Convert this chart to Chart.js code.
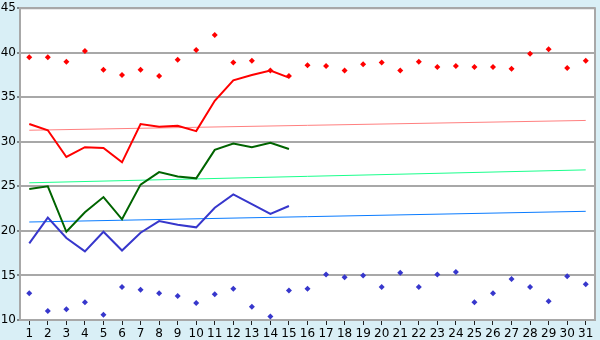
<!DOCTYPE html>
<html>
<head>
<meta charset="utf-8">
<script src="https://cdn.jsdelivr.net/npm/chart.js@4/dist/chart.umd.min.js"></script>
<style>
  html, body { margin: 0; padding: 0; background: #d9eff6; }
  #wrap { width: 600px; height: 340px; }
</style>
</head>
<body>
<div id="wrap"><canvas id="myChart" width="600" height="340"></canvas></div>
<script>
var dias = [];
for (var d = 1; d <= 31; d++) dias.push(String(d));

// puntos altos (rojo) y bajos (azul)
var maximos = [39.5, 39.5, 39.0, 40.2, 38.1, 37.5, 38.1, 37.4, 39.2, 40.3, 42.0, 38.9, 39.1, 38.0, 37.4,
               38.6, 38.5, 38.0, 38.7, 38.9, 38.0, 39.0, 38.4, 38.5, 38.4, 38.4, 38.2, 39.9, 40.4, 38.3, 39.1];
var minimos = [13.0, 11.0, 11.2, 12.0, 10.6, 13.7, 13.4, 13.0, 12.7, 11.9, 12.9, 13.5, 11.5, 10.4, 13.3,
               13.5, 15.1, 14.8, 15.0, 13.7, 15.3, 13.7, 15.1, 15.4, 12.0, 13.0, 14.6, 13.7, 12.1, 14.9, 14.0];

// series con linea (solo 15 dias)
var serieRoja = [32.0, 31.3, 28.3, 29.4, 29.3, 27.7, 32.0, 31.7, 31.8, 31.2, 34.6, 36.9, 37.5, 38.0, 37.2];
var serieVerde = [24.7, 25.0, 19.9, 22.1, 23.8, 21.3, 25.2, 26.6, 26.1, 25.9, 29.1, 29.8, 29.4, 29.9, 29.2];
var serieAzul = [18.6, 21.5, 19.2, 17.7, 19.9, 17.8, 19.8, 21.1, 20.7, 20.4, 22.6, 24.1, 23.0, 21.9, 22.8];

// tendencias: valor dia 1 y dia 31
var tendRoja = [31.3, 32.4];
var tendVerde = [25.4, 26.85];
var tendAzul = [21.0, 22.2];

var yTicks = [10, 15, 20, 25, 30, 35, 40, 45];

function tendencia(ext) {
  var arr = new Array(dias.length).fill(null);
  arr[0] = ext[0];
  arr[dias.length - 1] = ext[1];
  return arr;
}

var fondoPlot = {
  id: 'fondoPlot',
  beforeDraw: function (chart) {
    var a = chart.chartArea, c = chart.ctx;
    c.save();
    c.fillStyle = '#ffffff';
    c.fillRect(a.left, a.top, a.right - a.left, a.bottom - a.top);
    c.restore();
  },
  afterDatasetsDraw: function (chart) {
    var a = chart.chartArea, c = chart.ctx;
    c.save();
    c.strokeStyle = '#a8a8a8';
    c.lineWidth = 2;
    c.beginPath();
    c.moveTo(a.left, a.top);
    c.lineTo(a.right, a.top);
    c.lineTo(a.right, a.bottom);
    c.stroke();
    c.restore();
  }
};

var ctx = document.getElementById('myChart').getContext('2d');

var myChart = new Chart(ctx, {
  type: 'line',
  data: {
    labels: dias,
    datasets: [
      { data: maximos, showLine: false, pointStyle: 'rectRot', pointRadius: 3, pointBorderWidth: 0,
        pointBackgroundColor: '#ff0000', borderColor: '#ff0000', order: 0 },
      { data: minimos, showLine: false, pointStyle: 'rectRot', pointRadius: 3, pointBorderWidth: 0,
        pointBackgroundColor: '#3737cc', borderColor: '#3737cc', order: 0 },
      { data: serieRoja, borderColor: '#ff0000', borderWidth: 2, pointRadius: 0, order: 1 },
      { data: serieVerde, borderColor: '#006400', borderWidth: 2, pointRadius: 0, order: 1 },
      { data: serieAzul, borderColor: '#3737cc', borderWidth: 2, pointRadius: 0, order: 1 },
      { data: tendencia(tendRoja), spanGaps: true, borderColor: '#ff8080', borderWidth: 1, pointRadius: 0, order: 2 },
      { data: tendencia(tendVerde), spanGaps: true, borderColor: '#1aff8c', borderWidth: 1, pointRadius: 0, order: 2 },
      { data: tendencia(tendAzul), spanGaps: true, borderColor: '#0a7cff', borderWidth: 1, pointRadius: 0, order: 2 }
    ]
  },
  options: {
    responsive: false,
    animation: false,
    layout: { padding: { left: 0, right: 5, top: 5, bottom: 0 } },
    plugins: { legend: { display: false }, tooltip: { enabled: false } },
    elements: { line: { tension: 0 } },
    scales: {
      x: {
        offset: true,
        grid: { display: true, drawOnChartArea: false, offset: false, tickLength: 5, color: '#202020', tickWidth: 1 },
        border: { color: '#a8a8a8', width: 2 },
        ticks: { color: '#000000', font: { family: 'DejaVu Sans', size: 12 }, padding: 2, maxRotation: 0, autoSkip: false },
        afterFit: function (s) { s.height = 20; }
      },
      y: {
        min: 10, max: 45,
        afterBuildTicks: function (s) { s.ticks = yTicks.map(function (v) { return { value: v }; }); },
        grid: { color: '#a8a8a8', lineWidth: 2, tickLength: 3, tickColor: '#202020', tickWidth: 1 },
        border: { color: '#a8a8a8', width: 2 },
        ticks: { color: '#000000', font: { family: 'DejaVu Sans', size: 12 }, padding: 1 },
        afterFit: function (s) { s.width = 20; }
      }
    }
  },
  plugins: [fondoPlot]
});
</script>
</body>
</html>
